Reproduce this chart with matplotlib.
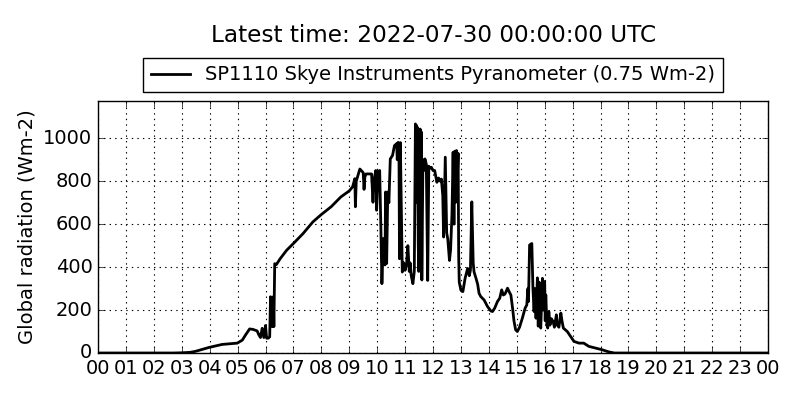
import matplotlib
matplotlib.use("Agg")
import matplotlib.pyplot as plt

plt.style.use("classic")

title = "Latest time: 2022-07-30 00:00:00 UTC"
series_label = "SP1110 Skye Instruments Pyranometer (0.75 Wm-2)"
ylabel = "Global radiation (Wm-2)"

hours = [
    0.0, 2.7, 3.0, 3.3, 3.5, 3.98, 4.45, 4.99, 5.17, 5.29, 5.43, 5.55, 5.7, 5.76, 5.82,
    5.88, 5.94, 6.0, 6.04, 6.1, 6.15, 6.18, 6.24, 6.28, 6.3, 6.33, 6.39, 6.53, 6.76,
    7.0, 7.35, 7.7, 8.0, 8.35, 8.7, 9.0, 9.12, 9.2, 9.22, 9.25, 9.38, 9.5, 9.53,
    9.56, 9.6, 9.8, 9.85, 9.88, 9.95, 9.98, 10.03, 10.09, 10.13, 10.17, 10.22, 10.28,
    10.3, 10.34, 10.38, 10.42, 10.47, 10.55, 10.62, 10.7, 10.72, 10.75, 10.78, 10.8,
    10.83, 10.9, 10.95,
    11.0, 11.05, 11.1, 11.15, 11.18, 11.22, 11.28, 11.33, 11.37, 11.39, 11.41, 11.43,
    11.45, 11.47, 11.49,
    11.51, 11.54, 11.56, 11.58, 11.6, 11.64, 11.67, 11.71, 11.76, 11.81, 11.85, 11.88,
    11.94, 12.0,
    12.06, 12.12, 12.14, 12.2, 12.26, 12.3, 12.35, 12.38, 12.44, 12.49, 12.53, 12.59,
    12.63, 12.68, 12.72, 12.75, 12.78, 12.8, 12.84, 12.87, 12.9, 12.92, 12.94, 13.0,
    13.07, 13.15, 13.24, 13.3,
    13.34, 13.39, 13.44, 13.47, 13.54, 13.6, 13.65, 13.71, 13.83, 13.95, 14.07, 14.13,
    14.21, 14.31, 14.39, 14.46, 14.52, 14.58, 14.67, 14.73, 14.79, 14.85, 14.9, 14.96,
    15.02, 15.1, 15.2, 15.3, 15.36, 15.4, 15.42, 15.46, 15.54, 15.56, 15.58, 15.62,
    15.65, 15.69, 15.74, 15.77, 15.8, 15.83, 15.86, 15.92, 15.95, 16.0, 16.02, 16.04,
    16.08, 16.11, 16.15, 16.19, 16.24, 16.3, 16.35, 16.42, 16.45, 16.51, 16.58, 16.62,
    16.67, 16.81, 16.93, 17.05, 17.23, 17.4, 17.58, 17.82, 18.06, 18.3, 18.5, 24.0,
]
radiation = [
    0, 0, 1, 3, 8, 26, 40, 46, 60, 85, 112, 110, 103, 85, 72,
    115, 72, 128, 69, 69, 75, 262, 123, 262, 123, 416, 412, 440, 479,
    510, 557, 611, 645, 681, 727, 755, 774, 812, 681, 800, 857, 840, 762,
    820, 834, 834, 702, 800, 850, 665, 845, 850, 600, 323, 533, 410,
    750, 417, 750, 700, 904, 920, 966, 975, 900, 981, 960, 439,
    980, 377, 420,
    385, 410, 500, 380, 420, 360, 323, 380, 1067, 700, 1060, 850,
    1050, 516, 380,
    450, 1043, 800, 1030, 340, 900, 850, 904, 880, 338, 870, 860,
    865, 850,
    850, 810, 795, 815, 800, 810, 733, 540, 912, 560, 530, 431,
    480, 650, 935, 600, 940, 700, 943, 800, 930, 450, 330, 292,
    286, 348, 394, 360,
    385, 704, 420, 378, 348, 320, 278, 263, 247, 217, 196, 193,
    209, 240, 255, 294, 270, 275, 302, 285, 270, 209, 150, 108,
    100, 120, 162, 209, 224, 300, 240, 503, 510, 400, 300, 193,
    300, 162, 350, 125, 330, 160, 116, 348, 200, 333, 150, 271,
    130, 116, 193, 130, 160, 147, 120, 178, 130, 120, 186, 150,
    116, 100, 77, 54, 46, 46, 31, 23, 15, 5, 0, 0,
]

xtick_pos = list(range(0, 25))
xtick_labels = ["%02d" % (h % 24) for h in xtick_pos]
ytick_pos = [0, 200, 400, 600, 800, 1000]

fig = plt.figure(figsize=(8, 4), dpi=100, facecolor="white")
ax = fig.add_axes([0.1225, 0.1175, 0.8375, 0.63])
ax.plot(hours, radiation, color="black", lw=2, label=series_label)
ax.set_xlim(0, 24)
ax.set_ylim(0, max(radiation) * 1.1)
ax.set_xticks(xtick_pos)
ax.set_xticklabels(xtick_labels, fontsize=14)
ax.set_yticks(ytick_pos)
ax.tick_params(axis="y", labelsize=14)
ax.grid(True, color="black", linestyle=":", linewidth=0.8)
ax.set_ylabel(ylabel, fontsize=14)
ax.legend(loc="lower center", bbox_to_anchor=(0.5, 1.035), fontsize=14,
          handlelength=2, borderaxespad=0, numpoints=1)
fig.text(0.542, 0.91, title, ha="center", va="center", fontsize=16.7)
fig.savefig("out.png", dpi=100, facecolor="white")
